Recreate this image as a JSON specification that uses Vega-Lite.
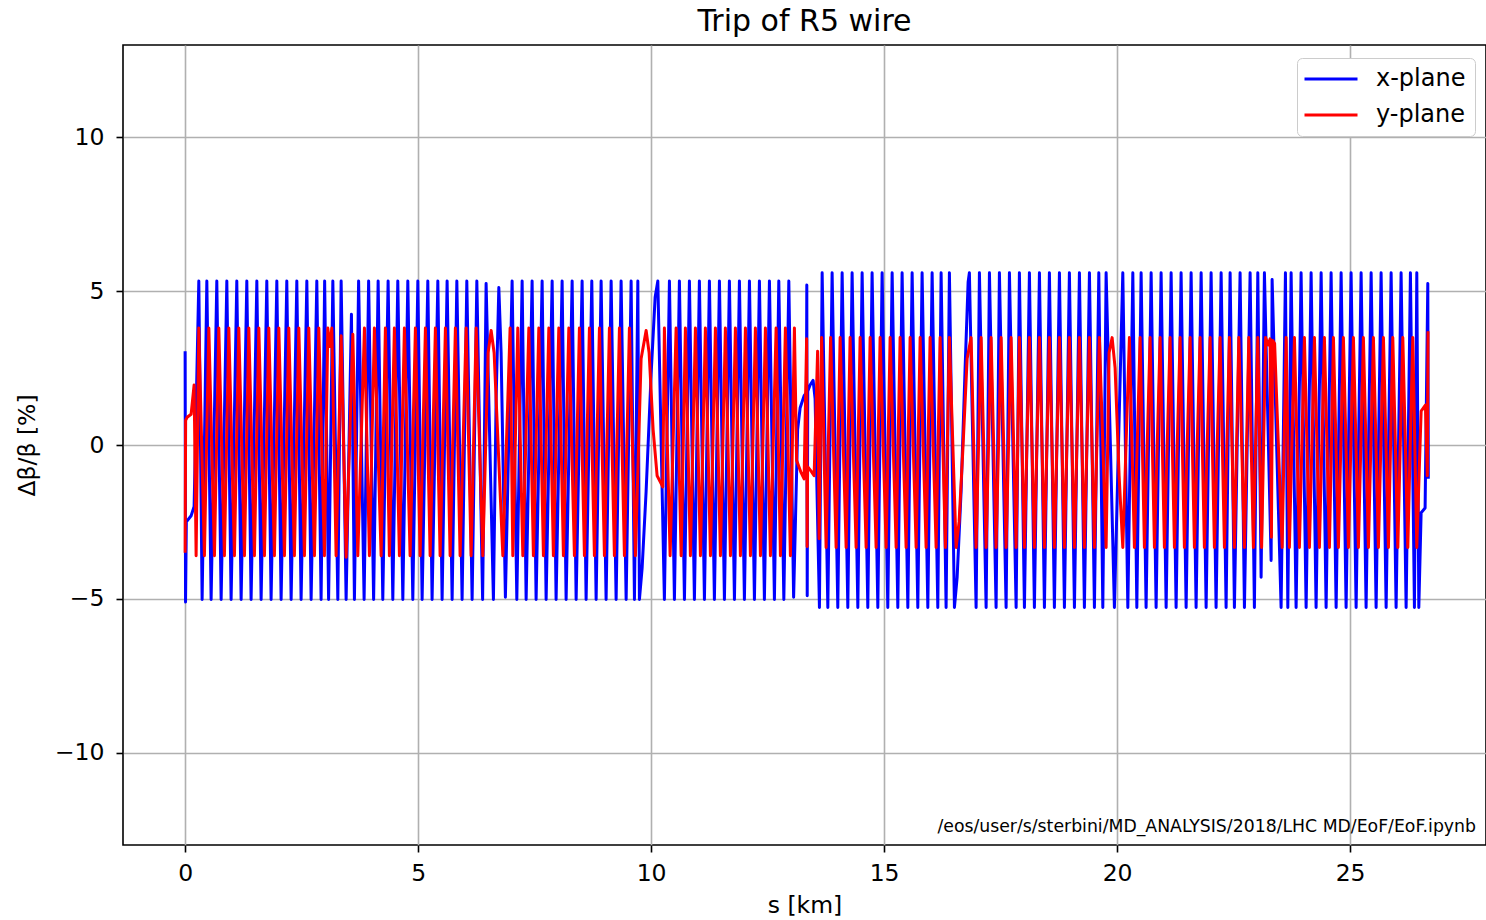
{
"$schema":"https://vega.github.io/schema/vega-lite/v6.json",
"width":1363,"height":800,"autosize":"none",
"padding":{"left":123,"top":45,"right":0,"bottom":75},
"background":"white",
"title":{"text":"Trip of R5 wire","fontSize":30,"font":"DejaVu Sans","fontWeight":"normal","color":"#000","offset":8},
"config":{
 "view":{"stroke":"#000","strokeWidth":1.6},
 "axis":{"grid":true,"gridColor":"#b0b0b0","gridWidth":1.6,"domain":false,"tickColor":"#000","tickWidth":1.6,"tickSize":7,"labelFont":"DejaVu Sans","labelFontSize":23.5,"labelColor":"#000","titleFont":"DejaVu Sans","titleFontSize":23.5,"titleFontWeight":"normal","titleColor":"#000","labelFlush":false}
},
"data":{"values":[
{"p":"n","t":"/eos/user/s/sterbini/MD_ANALYSIS/2018/LHC MD/EoF/EoF.ipynb"},
{"s":0,"v":3.05,"p":"x"},{"s":0.009,"v":-5.1,"p":"x"},{"s":0.026,"v":-2.5,"p":"x"},{"s":0.129,"v":-2.3,"p":"x"},{"s":0.193,"v":-2.0,"p":"x"},
{"s":0.294,"v":5.33,"p":"x"},{"s":0.365,"v":-5.02,"p":"x"},{"s":0.466,"v":5.33,"p":"x"},{"s":0.558,"v":-5.02,"p":"x"},{"s":0.68,"v":5.33,"p":"x"},{"s":0.773,"v":-5.02,"p":"x"},{"s":0.895,"v":5.33,"p":"x"},{"s":0.987,"v":-5.02,"p":"x"},{"s":1.109,"v":5.33,"p":"x"},{"s":1.202,"v":-5.02,"p":"x"},{"s":1.324,"v":5.33,"p":"x"},{"s":1.416,"v":-5.02,"p":"x"},{"s":1.539,"v":5.33,"p":"x"},{"s":1.631,"v":-5.02,"p":"x"},{"s":1.753,"v":5.33,"p":"x"},{"s":1.845,"v":-5.02,"p":"x"},{"s":1.968,"v":5.33,"p":"x"},{"s":2.06,"v":-5.02,"p":"x"},{"s":2.182,"v":5.33,"p":"x"},{"s":2.275,"v":-5.02,"p":"x"},{"s":2.397,"v":5.33,"p":"x"},{"s":2.489,"v":-5.02,"p":"x"},{"s":2.612,"v":5.33,"p":"x"},{"s":2.704,"v":-5.02,"p":"x"},{"s":2.826,"v":5.33,"p":"x"},{"s":2.918,"v":-5.02,"p":"x"},{"s":2.994,"v":5.33,"p":"x"},{"s":3.079,"v":-5.02,"p":"x"},{"s":3.17,"v":5.33,"p":"x"},{"s":3.277,"v":-5.02,"p":"x"},{"s":3.348,"v":5.33,"p":"x"},{"s":3.455,"v":-5.02,"p":"x"},{"s":3.569,"v":4.25,"p":"x"},{"s":3.633,"v":-5.02,"p":"x"},{"s":3.723,"v":5.33,"p":"x"},{"s":3.841,"v":-5.02,"p":"x"},{"s":3.938,"v":5.33,"p":"x"},{"s":4.045,"v":-5.02,"p":"x"},{"s":4.142,"v":5.33,"p":"x"},{"s":4.242,"v":-5.02,"p":"x"},{"s":4.356,"v":5.33,"p":"x"},{"s":4.457,"v":-5.02,"p":"x"},{"s":4.564,"v":5.33,"p":"x"},{"s":4.672,"v":-5.02,"p":"x"},{"s":4.779,"v":5.33,"p":"x"},{"s":4.886,"v":-5.02,"p":"x"},{"s":4.994,"v":5.33,"p":"x"},{"s":5.086,"v":-5.02,"p":"x"},{"s":5.208,"v":5.33,"p":"x"},{"s":5.3,"v":-5.02,"p":"x"},{"s":5.423,"v":5.33,"p":"x"},{"s":5.515,"v":-5.02,"p":"x"},{"s":5.622,"v":5.33,"p":"x"},{"s":5.73,"v":-5.02,"p":"x"},{"s":5.831,"v":5.33,"p":"x"},{"s":5.944,"v":-5.02,"p":"x"},{"s":6.045,"v":5.33,"p":"x"},{"s":6.159,"v":-5.02,"p":"x"},{"s":6.26,"v":5.33,"p":"x"},{"s":6.384,"v":-5.02,"p":"x"},{"s":6.459,"v":5.25,"p":"x"},{"s":6.616,"v":-5.02,"p":"x"},{"s":6.674,"v":1.5,"p":"x"},{"s":6.732,"v":5.12,"p":"x"},{"s":6.781,"v":3.0,"p":"x"},{"s":6.873,"v":-4.95,"p":"x"},
{"s":7.017,"v":5.33,"p":"x"},{"s":7.118,"v":-5.02,"p":"x"},{"s":7.232,"v":5.33,"p":"x"},{"s":7.318,"v":-5.02,"p":"x"},{"s":7.446,"v":5.33,"p":"x"},{"s":7.532,"v":-5.02,"p":"x"},{"s":7.661,"v":5.33,"p":"x"},{"s":7.747,"v":-5.02,"p":"x"},{"s":7.876,"v":5.33,"p":"x"},{"s":7.961,"v":-5.02,"p":"x"},{"s":8.09,"v":5.33,"p":"x"},{"s":8.176,"v":-5.02,"p":"x"},{"s":8.305,"v":5.33,"p":"x"},{"s":8.391,"v":-5.02,"p":"x"},{"s":8.519,"v":5.33,"p":"x"},{"s":8.605,"v":-5.02,"p":"x"},{"s":8.727,"v":5.33,"p":"x"},{"s":8.82,"v":-5.02,"p":"x"},{"s":8.927,"v":5.33,"p":"x"},{"s":9.034,"v":-5.02,"p":"x"},{"s":9.142,"v":5.33,"p":"x"},{"s":9.249,"v":-5.02,"p":"x"},{"s":9.356,"v":5.33,"p":"x"},{"s":9.464,"v":-5.02,"p":"x"},{"s":9.571,"v":5.33,"p":"x"},{"s":9.642,"v":-5.02,"p":"x"},{"s":9.715,"v":5.33,"p":"x"},{"s":9.749,"v":-5.02,"p":"x"},{"s":9.807,"v":-4.0,"p":"x"},{"s":9.893,"v":-1.5,"p":"x"},{"s":10.0,"v":2.3,"p":"x"},{"s":10.086,"v":4.8,"p":"x"},{"s":10.144,"v":5.33,"p":"x"},{"s":10.285,"v":-5.02,"p":"x"},
{"s":10.393,"v":5.33,"p":"x"},{"s":10.5,"v":-5.02,"p":"x"},{"s":10.607,"v":5.33,"p":"x"},{"s":10.715,"v":-5.02,"p":"x"},{"s":10.822,"v":5.33,"p":"x"},{"s":10.929,"v":-5.02,"p":"x"},{"s":11.036,"v":5.33,"p":"x"},{"s":11.144,"v":-5.02,"p":"x"},{"s":11.251,"v":5.33,"p":"x"},{"s":11.358,"v":-5.02,"p":"x"},{"s":11.466,"v":5.33,"p":"x"},{"s":11.573,"v":-5.02,"p":"x"},{"s":11.68,"v":5.33,"p":"x"},{"s":11.788,"v":-5.02,"p":"x"},{"s":11.895,"v":5.33,"p":"x"},{"s":12.002,"v":-5.02,"p":"x"},{"s":12.11,"v":5.33,"p":"x"},{"s":12.217,"v":-5.02,"p":"x"},{"s":12.324,"v":5.33,"p":"x"},{"s":12.431,"v":-5.02,"p":"x"},{"s":12.539,"v":5.33,"p":"x"},{"s":12.646,"v":-5.02,"p":"x"},{"s":12.74,"v":5.33,"p":"x"},{"s":12.848,"v":-5.02,"p":"x"},{"s":12.955,"v":5.33,"p":"x"},{"s":13.058,"v":-4.95,"p":"x"},{"s":13.144,"v":0.5,"p":"x"},{"s":13.197,"v":1.2,"p":"x"},{"s":13.283,"v":1.6,"p":"x"},{"s":13.333,"v":1.7,"p":"x"},{"s":13.341,"v":5.2,"p":"x"},{"s":13.35,"v":-4.9,"p":"x"},{"s":13.361,"v":1.75,"p":"x"},{"s":13.412,"v":1.95,"p":"x"},{"s":13.476,"v":2.1,"p":"x"},{"s":13.519,"v":1.5,"p":"x"},
{"s":13.612,"v":-5.28,"p":"x"},{"s":13.67,"v":5.6,"p":"x"},{"s":13.792,"v":-5.28,"p":"x"},{"s":13.884,"v":5.6,"p":"x"},{"s":14.006,"v":-5.28,"p":"x"},{"s":14.099,"v":5.6,"p":"x"},{"s":14.221,"v":-5.28,"p":"x"},{"s":14.313,"v":5.6,"p":"x"},{"s":14.436,"v":-5.28,"p":"x"},{"s":14.528,"v":5.6,"p":"x"},{"s":14.65,"v":-5.28,"p":"x"},{"s":14.742,"v":5.6,"p":"x"},{"s":14.865,"v":-5.28,"p":"x"},{"s":14.957,"v":5.6,"p":"x"},{"s":15.079,"v":-5.28,"p":"x"},{"s":15.172,"v":5.6,"p":"x"},{"s":15.294,"v":-5.28,"p":"x"},{"s":15.386,"v":5.6,"p":"x"},{"s":15.509,"v":-5.28,"p":"x"},{"s":15.601,"v":5.6,"p":"x"},{"s":15.723,"v":-5.28,"p":"x"},{"s":15.815,"v":5.6,"p":"x"},{"s":15.938,"v":-5.28,"p":"x"},{"s":16.03,"v":5.6,"p":"x"},{"s":16.152,"v":-5.28,"p":"x"},{"s":16.223,"v":5.6,"p":"x"},{"s":16.33,"v":-5.28,"p":"x"},{"s":16.401,"v":5.6,"p":"x"},{"s":16.509,"v":-5.28,"p":"x"},{"s":16.567,"v":-4.3,"p":"x"},{"s":16.652,"v":-1.5,"p":"x"},{"s":16.738,"v":2.5,"p":"x"},{"s":16.803,"v":5.3,"p":"x"},{"s":16.83,"v":5.6,"p":"x"},{"s":16.974,"v":-5.28,"p":"x"},
{"s":17.045,"v":5.6,"p":"x"},{"s":17.189,"v":-5.28,"p":"x"},{"s":17.26,"v":5.6,"p":"x"},{"s":17.403,"v":-5.28,"p":"x"},{"s":17.474,"v":5.6,"p":"x"},{"s":17.618,"v":-5.28,"p":"x"},{"s":17.689,"v":5.6,"p":"x"},{"s":17.833,"v":-5.28,"p":"x"},{"s":17.903,"v":5.6,"p":"x"},{"s":18.011,"v":-5.28,"p":"x"},{"s":18.118,"v":5.6,"p":"x"},{"s":18.225,"v":-5.28,"p":"x"},{"s":18.333,"v":5.6,"p":"x"},{"s":18.44,"v":-5.28,"p":"x"},{"s":18.547,"v":5.6,"p":"x"},{"s":18.654,"v":-5.28,"p":"x"},{"s":18.762,"v":5.6,"p":"x"},{"s":18.869,"v":-5.28,"p":"x"},{"s":18.976,"v":5.6,"p":"x"},{"s":19.084,"v":-5.28,"p":"x"},{"s":19.191,"v":5.6,"p":"x"},{"s":19.298,"v":-5.28,"p":"x"},{"s":19.406,"v":5.6,"p":"x"},{"s":19.513,"v":-5.28,"p":"x"},{"s":19.607,"v":5.6,"p":"x"},{"s":19.693,"v":-5.28,"p":"x"},{"s":19.764,"v":5.6,"p":"x"},{"s":19.942,"v":-5.28,"p":"x"},{"s":20.122,"v":5.6,"p":"x"},{"s":20.23,"v":-5.28,"p":"x"},{"s":20.337,"v":5.6,"p":"x"},{"s":20.423,"v":-5.28,"p":"x"},{"s":20.515,"v":5.6,"p":"x"},{"s":20.622,"v":-5.28,"p":"x"},{"s":20.73,"v":5.6,"p":"x"},{"s":20.837,"v":-5.28,"p":"x"},{"s":20.944,"v":5.6,"p":"x"},{"s":21.052,"v":-5.28,"p":"x"},{"s":21.159,"v":5.6,"p":"x"},{"s":21.266,"v":-5.28,"p":"x"},{"s":21.373,"v":5.6,"p":"x"},{"s":21.481,"v":-5.28,"p":"x"},{"s":21.588,"v":5.6,"p":"x"},{"s":21.695,"v":-5.28,"p":"x"},{"s":21.803,"v":5.6,"p":"x"},{"s":21.91,"v":-5.28,"p":"x"},{"s":22.017,"v":5.6,"p":"x"},{"s":22.124,"v":-5.28,"p":"x"},{"s":22.232,"v":5.6,"p":"x"},{"s":22.339,"v":-5.28,"p":"x"},{"s":22.425,"v":5.6,"p":"x"},{"s":22.517,"v":-5.28,"p":"x"},{"s":22.639,"v":5.6,"p":"x"},{"s":22.732,"v":-5.28,"p":"x"},{"s":22.854,"v":5.6,"p":"x"},{"s":22.946,"v":-5.28,"p":"x"},{"s":23.019,"v":5.6,"p":"x"},{"s":23.09,"v":-4.3,"p":"x"},{"s":23.161,"v":5.6,"p":"x"},{"s":23.305,"v":-3.75,"p":"x"},{"s":23.326,"v":5.38,"p":"x"},{"s":23.519,"v":-5.28,"p":"x"},
{"s":23.612,"v":5.6,"p":"x"},{"s":23.663,"v":-5.28,"p":"x"},{"s":23.734,"v":5.6,"p":"x"},{"s":23.841,"v":-5.28,"p":"x"},{"s":23.948,"v":5.6,"p":"x"},{"s":24.056,"v":-5.28,"p":"x"},{"s":24.163,"v":5.6,"p":"x"},{"s":24.27,"v":-5.28,"p":"x"},{"s":24.378,"v":5.6,"p":"x"},{"s":24.485,"v":-5.28,"p":"x"},{"s":24.592,"v":5.6,"p":"x"},{"s":24.7,"v":-5.28,"p":"x"},{"s":24.807,"v":5.6,"p":"x"},{"s":24.914,"v":-5.28,"p":"x"},{"s":25.021,"v":5.6,"p":"x"},{"s":25.129,"v":-5.28,"p":"x"},{"s":25.236,"v":5.6,"p":"x"},{"s":25.343,"v":-5.28,"p":"x"},{"s":25.451,"v":5.6,"p":"x"},{"s":25.558,"v":-5.28,"p":"x"},{"s":25.665,"v":5.6,"p":"x"},{"s":25.773,"v":-5.28,"p":"x"},{"s":25.88,"v":5.6,"p":"x"},{"s":25.987,"v":-5.28,"p":"x"},{"s":26.094,"v":5.6,"p":"x"},{"s":26.202,"v":-5.28,"p":"x"},{"s":26.294,"v":5.6,"p":"x"},{"s":26.38,"v":-5.28,"p":"x"},{"s":26.431,"v":5.6,"p":"x"},{"s":26.474,"v":-5.28,"p":"x"},{"s":26.524,"v":-2.2,"p":"x"},{"s":26.609,"v":-2.05,"p":"x"},{"s":26.667,"v":5.25,"p":"x"},{"s":26.678,"v":-1.1,"p":"x"},
{"s":0,"v":-3.5,"p":"y"},{"s":0.011,"v":0.8,"p":"y"},{"s":0.043,"v":0.9,"p":"y"},{"s":0.129,"v":1.0,"p":"y"},{"s":0.193,"v":1.95,"p":"y"},{"s":0.236,"v":-3.6,"p":"y"},
{"s":0.294,"v":3.8,"p":"y"},{"s":0.414,"v":-3.6,"p":"y"},{"s":0.509,"v":3.8,"p":"y"},{"s":0.629,"v":-3.6,"p":"y"},{"s":0.723,"v":3.8,"p":"y"},{"s":0.843,"v":-3.6,"p":"y"},{"s":0.938,"v":3.8,"p":"y"},{"s":1.058,"v":-3.6,"p":"y"},{"s":1.152,"v":3.8,"p":"y"},{"s":1.273,"v":-3.6,"p":"y"},{"s":1.367,"v":3.8,"p":"y"},{"s":1.487,"v":-3.6,"p":"y"},{"s":1.582,"v":3.8,"p":"y"},{"s":1.702,"v":-3.6,"p":"y"},{"s":1.796,"v":3.8,"p":"y"},{"s":1.916,"v":-3.6,"p":"y"},{"s":2.011,"v":3.8,"p":"y"},{"s":2.131,"v":-3.6,"p":"y"},{"s":2.225,"v":3.8,"p":"y"},{"s":2.345,"v":-3.6,"p":"y"},{"s":2.44,"v":3.8,"p":"y"},{"s":2.56,"v":-3.6,"p":"y"},{"s":2.654,"v":3.8,"p":"y"},{"s":2.775,"v":-3.6,"p":"y"},{"s":2.869,"v":3.8,"p":"y"},{"s":2.989,"v":-3.6,"p":"y"},{"s":3.062,"v":3.8,"p":"y"},{"s":3.105,"v":3.2,"p":"y"},{"s":3.148,"v":3.8,"p":"y"},{"s":3.24,"v":-3.6,"p":"y"},{"s":3.348,"v":3.55,"p":"y"},{"s":3.455,"v":-3.65,"p":"y"},{"s":3.599,"v":3.6,"p":"y"},{"s":3.706,"v":-3.6,"p":"y"},{"s":3.848,"v":3.8,"p":"y"},{"s":3.955,"v":-3.6,"p":"y"},{"s":4.062,"v":3.8,"p":"y"},{"s":4.206,"v":-3.6,"p":"y"},{"s":4.298,"v":3.8,"p":"y"},{"s":4.384,"v":-3.6,"p":"y"},{"s":4.491,"v":3.8,"p":"y"},{"s":4.599,"v":-3.6,"p":"y"},{"s":4.706,"v":3.8,"p":"y"},{"s":4.828,"v":-3.6,"p":"y"},{"s":4.942,"v":3.8,"p":"y"},{"s":5.043,"v":-3.6,"p":"y"},{"s":5.157,"v":3.8,"p":"y"},{"s":5.258,"v":-3.6,"p":"y"},{"s":5.371,"v":3.8,"p":"y"},{"s":5.472,"v":-3.6,"p":"y"},{"s":5.586,"v":3.8,"p":"y"},{"s":5.687,"v":-3.6,"p":"y"},{"s":5.8,"v":3.8,"p":"y"},{"s":5.901,"v":-3.6,"p":"y"},{"s":6.03,"v":3.8,"p":"y"},{"s":6.137,"v":-3.6,"p":"y"},{"s":6.245,"v":3.8,"p":"y"},{"s":6.388,"v":-3.6,"p":"y"},{"s":6.502,"v":3.0,"p":"y"},{"s":6.567,"v":3.72,"p":"y"},{"s":6.631,"v":3.0,"p":"y"},{"s":6.717,"v":0,"p":"y"},{"s":6.818,"v":-3.6,"p":"y"},
{"s":6.974,"v":3.8,"p":"y"},{"s":7.032,"v":-3.6,"p":"y"},{"s":7.139,"v":3.8,"p":"y"},{"s":7.247,"v":-3.6,"p":"y"},{"s":7.376,"v":3.8,"p":"y"},{"s":7.474,"v":-3.6,"p":"y"},{"s":7.59,"v":3.8,"p":"y"},{"s":7.689,"v":-3.6,"p":"y"},{"s":7.805,"v":3.8,"p":"y"},{"s":7.903,"v":-3.6,"p":"y"},{"s":8.019,"v":3.8,"p":"y"},{"s":8.118,"v":-3.6,"p":"y"},{"s":8.234,"v":3.8,"p":"y"},{"s":8.354,"v":-3.6,"p":"y"},{"s":8.461,"v":3.8,"p":"y"},{"s":8.569,"v":-3.6,"p":"y"},{"s":8.676,"v":3.8,"p":"y"},{"s":8.783,"v":-3.6,"p":"y"},{"s":8.891,"v":3.8,"p":"y"},{"s":8.998,"v":-3.6,"p":"y"},{"s":9.105,"v":3.8,"p":"y"},{"s":9.212,"v":-3.6,"p":"y"},{"s":9.32,"v":3.8,"p":"y"},{"s":9.427,"v":-3.6,"p":"y"},{"s":9.534,"v":3.8,"p":"y"},{"s":9.663,"v":-3.6,"p":"y"},{"s":9.785,"v":2.8,"p":"y"},{"s":9.893,"v":3.72,"p":"y"},{"s":9.957,"v":3.0,"p":"y"},{"s":10.043,"v":0.5,"p":"y"},{"s":10.129,"v":-1.0,"p":"y"},{"s":10.251,"v":-1.36,"p":"y"},
{"s":10.285,"v":3.8,"p":"y"},{"s":10.408,"v":-3.6,"p":"y"},{"s":10.536,"v":3.8,"p":"y"},{"s":10.644,"v":-3.6,"p":"y"},{"s":10.736,"v":3.8,"p":"y"},{"s":10.843,"v":-3.6,"p":"y"},{"s":10.951,"v":3.8,"p":"y"},{"s":11.058,"v":-3.6,"p":"y"},{"s":11.165,"v":3.8,"p":"y"},{"s":11.273,"v":-3.6,"p":"y"},{"s":11.38,"v":3.8,"p":"y"},{"s":11.487,"v":-3.6,"p":"y"},{"s":11.594,"v":3.8,"p":"y"},{"s":11.702,"v":-3.6,"p":"y"},{"s":11.809,"v":3.8,"p":"y"},{"s":11.916,"v":-3.6,"p":"y"},{"s":12.024,"v":3.8,"p":"y"},{"s":12.131,"v":-3.6,"p":"y"},{"s":12.238,"v":3.8,"p":"y"},{"s":12.346,"v":-3.6,"p":"y"},{"s":12.453,"v":3.8,"p":"y"},{"s":12.56,"v":-3.6,"p":"y"},{"s":12.682,"v":3.8,"p":"y"},{"s":12.775,"v":-3.6,"p":"y"},{"s":12.882,"v":3.8,"p":"y"},{"s":12.989,"v":-3.6,"p":"y"},{"s":13.075,"v":3.8,"p":"y"},{"s":13.122,"v":-0.5,"p":"y"},{"s":13.219,"v":-0.9,"p":"y"},{"s":13.283,"v":-1.1,"p":"y"},{"s":13.337,"v":3.45,"p":"y"},{"s":13.348,"v":-3.3,"p":"y"},{"s":13.358,"v":-0.7,"p":"y"},{"s":13.433,"v":-0.85,"p":"y"},{"s":13.498,"v":-1.0,"p":"y"},{"s":13.573,"v":3.05,"p":"y"},{"s":13.605,"v":-3.05,"p":"y"},
{"s":13.659,"v":3.49,"p":"y"},{"s":13.755,"v":-3.33,"p":"y"},{"s":13.852,"v":3.49,"p":"y"},{"s":13.97,"v":-3.33,"p":"y"},{"s":14.056,"v":3.49,"p":"y"},{"s":14.185,"v":-3.33,"p":"y"},{"s":14.27,"v":3.49,"p":"y"},{"s":14.399,"v":-3.33,"p":"y"},{"s":14.485,"v":3.49,"p":"y"},{"s":14.614,"v":-3.33,"p":"y"},{"s":14.7,"v":3.49,"p":"y"},{"s":14.828,"v":-3.33,"p":"y"},{"s":14.914,"v":3.49,"p":"y"},{"s":15.043,"v":-3.33,"p":"y"},{"s":15.129,"v":3.49,"p":"y"},{"s":15.258,"v":-3.33,"p":"y"},{"s":15.343,"v":3.49,"p":"y"},{"s":15.472,"v":-3.33,"p":"y"},{"s":15.558,"v":3.49,"p":"y"},{"s":15.687,"v":-3.33,"p":"y"},{"s":15.773,"v":3.49,"p":"y"},{"s":15.901,"v":-3.33,"p":"y"},{"s":15.987,"v":3.49,"p":"y"},{"s":16.116,"v":-3.33,"p":"y"},{"s":16.202,"v":3.49,"p":"y"},{"s":16.315,"v":-3.33,"p":"y"},{"s":16.401,"v":3.49,"p":"y"},{"s":16.545,"v":-3.33,"p":"y"},{"s":16.609,"v":-2.5,"p":"y"},{"s":16.695,"v":0,"p":"y"},{"s":16.781,"v":2.8,"p":"y"},{"s":16.867,"v":3.49,"p":"y"},{"s":16.974,"v":-3.33,"p":"y"},
{"s":17.082,"v":3.49,"p":"y"},{"s":17.189,"v":-3.33,"p":"y"},{"s":17.296,"v":3.49,"p":"y"},{"s":17.403,"v":-3.33,"p":"y"},{"s":17.511,"v":3.49,"p":"y"},{"s":17.618,"v":-3.33,"p":"y"},{"s":17.725,"v":3.49,"p":"y"},{"s":17.833,"v":-3.33,"p":"y"},{"s":17.903,"v":3.49,"p":"y"},{"s":18.011,"v":-3.33,"p":"y"},{"s":18.118,"v":3.49,"p":"y"},{"s":18.225,"v":-3.33,"p":"y"},{"s":18.333,"v":3.49,"p":"y"},{"s":18.44,"v":-3.33,"p":"y"},{"s":18.547,"v":3.49,"p":"y"},{"s":18.654,"v":-3.33,"p":"y"},{"s":18.762,"v":3.49,"p":"y"},{"s":18.869,"v":-3.33,"p":"y"},{"s":18.976,"v":3.49,"p":"y"},{"s":19.084,"v":-3.33,"p":"y"},{"s":19.191,"v":3.49,"p":"y"},{"s":19.298,"v":-3.33,"p":"y"},{"s":19.406,"v":3.49,"p":"y"},{"s":19.513,"v":-3.33,"p":"y"},{"s":19.62,"v":3.49,"p":"y"},{"s":19.764,"v":-3.33,"p":"y"},{"s":19.828,"v":3.0,"p":"y"},{"s":19.893,"v":3.49,"p":"y"},{"s":19.957,"v":2.5,"p":"y"},{"s":20.043,"v":-1.0,"p":"y"},{"s":20.122,"v":-3.33,"p":"y"},
{"s":20.264,"v":3.49,"p":"y"},{"s":20.371,"v":-3.33,"p":"y"},{"s":20.494,"v":3.49,"p":"y"},{"s":20.586,"v":-3.33,"p":"y"},{"s":20.708,"v":3.49,"p":"y"},{"s":20.801,"v":-3.33,"p":"y"},{"s":20.923,"v":3.49,"p":"y"},{"s":21.015,"v":-3.33,"p":"y"},{"s":21.137,"v":3.49,"p":"y"},{"s":21.23,"v":-3.33,"p":"y"},{"s":21.352,"v":3.49,"p":"y"},{"s":21.444,"v":-3.33,"p":"y"},{"s":21.567,"v":3.49,"p":"y"},{"s":21.659,"v":-3.33,"p":"y"},{"s":21.781,"v":3.49,"p":"y"},{"s":21.873,"v":-3.33,"p":"y"},{"s":21.996,"v":3.49,"p":"y"},{"s":22.088,"v":-3.33,"p":"y"},{"s":22.21,"v":3.49,"p":"y"},{"s":22.303,"v":-3.33,"p":"y"},{"s":22.41,"v":3.49,"p":"y"},{"s":22.517,"v":-3.33,"p":"y"},{"s":22.612,"v":3.49,"p":"y"},{"s":22.732,"v":-3.33,"p":"y"},{"s":22.826,"v":3.49,"p":"y"},{"s":22.925,"v":-3.33,"p":"y"},{"s":23.019,"v":3.49,"p":"y"},{"s":23.101,"v":-3.33,"p":"y"},{"s":23.187,"v":3.49,"p":"y"},{"s":23.24,"v":3.25,"p":"y"},{"s":23.283,"v":3.45,"p":"y"},{"s":23.311,"v":-3.0,"p":"y"},{"s":23.337,"v":3.4,"p":"y"},{"s":23.38,"v":3.3,"p":"y"},{"s":23.541,"v":-3.33,"p":"y"},
{"s":23.627,"v":3.49,"p":"y"},{"s":23.697,"v":-3.33,"p":"y"},{"s":23.805,"v":3.49,"p":"y"},{"s":23.912,"v":-3.33,"p":"y"},{"s":24.019,"v":3.49,"p":"y"},{"s":24.127,"v":-3.33,"p":"y"},{"s":24.234,"v":3.49,"p":"y"},{"s":24.341,"v":-3.33,"p":"y"},{"s":24.448,"v":3.49,"p":"y"},{"s":24.556,"v":-3.33,"p":"y"},{"s":24.642,"v":3.49,"p":"y"},{"s":24.749,"v":-3.33,"p":"y"},{"s":24.856,"v":3.49,"p":"y"},{"s":24.964,"v":-3.33,"p":"y"},{"s":25.071,"v":3.49,"p":"y"},{"s":25.178,"v":-3.33,"p":"y"},{"s":25.285,"v":3.49,"p":"y"},{"s":25.393,"v":-3.33,"p":"y"},{"s":25.5,"v":3.49,"p":"y"},{"s":25.607,"v":-3.33,"p":"y"},{"s":25.715,"v":3.49,"p":"y"},{"s":25.822,"v":-3.33,"p":"y"},{"s":25.916,"v":3.49,"p":"y"},{"s":26.024,"v":-3.33,"p":"y"},{"s":26.131,"v":3.49,"p":"y"},{"s":26.238,"v":-3.33,"p":"y"},{"s":26.345,"v":3.49,"p":"y"},{"s":26.431,"v":-3.33,"p":"y"},{"s":26.524,"v":1.1,"p":"y"},{"s":26.616,"v":1.3,"p":"y"},{"s":26.657,"v":-1.0,"p":"y"},{"s":26.672,"v":3.7,"p":"y"}
]},
"layer":[
 {"transform":[{"filter":"datum.p=='x'"}],"mark":{"type":"line","strokeWidth":3,"strokeJoin":"round","clip":true},
  "encoding":{
   "x":{"field":"s","type":"quantitative","scale":{"domain":[-1.333,27.916],"nice":false,"zero":false},"axis":{"values":[0,5,10,15,20,25],"title":"s [km]","labelPadding":9,"titlePadding":9}},
   "y":{"field":"v","type":"quantitative","scale":{"domain":[-13,13],"nice":false,"zero":false},"axis":{"values":[-10,-5,0,5,10],"title":"Δβ/β [%]","labelPadding":12,"titlePadding":15}},
   "color":{"field":"p","type":"nominal","scale":{"domain":["x","y"],"range":["#0000ff","#ff0000"]},
   "legend":{"title":null,"orient":"none","legendX":1174,"legendY":13,"symbolType":"M-2.65,0H2.65","symbolStrokeWidth":3,"symbolSize":400,"symbolOffset":13,"labelFontSize":24,"labelFont":"DejaVu Sans","labelColor":"#000","labelOffset":33,"padding":9,"fillColor":"#ffffff","strokeColor":"#cccccc","cornerRadius":5,"rowPadding":12,"labelExpr":"datum.value=='x'?'x-plane':'y-plane'"}}}},
 {"transform":[{"filter":"datum.p=='y'"}],"mark":{"type":"line","strokeWidth":3,"strokeJoin":"round","clip":true},
  "encoding":{"x":{"field":"s","type":"quantitative"},"y":{"field":"v","type":"quantitative"},"color":{"field":"p","type":"nominal"}}},
 {"transform":[{"filter":"datum.p=='n'"}],
  "mark":{"type":"text","align":"right","baseline":"middle","fontSize":17.3,"font":"DejaVu Sans","fill":"#000","dx":-10,"dy":-18},
  "encoding":{"x":{"value":"width"},"y":{"value":"height"},"text":{"field":"t","type":"nominal"}}}
]
}
